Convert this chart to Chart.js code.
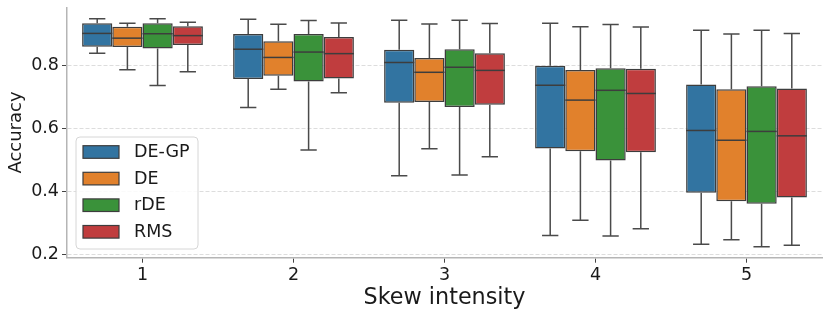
<!DOCTYPE html>
<html>
<head>
<meta charset="utf-8">
<script src="https://cdn.jsdelivr.net/npm/chart.js@4.4.1/dist/chart.umd.min.js"></script>
<style>
html,body{margin:0;padding:0;background:#fff;}
#wrap{width:830px;height:318px;position:relative;}
</style>
</head>
<body>
<div id="wrap"><canvas id="c" width="830" height="318"></canvas></div>
<script>
// ---- data ----
const categories = ['1', '2', '3', '4', '5'];
const seriesNames = ['DE-GP', 'DE', 'rDE', 'RMS'];
const seriesColors = ['#3274a1', '#e1812c', '#3a923a', '#c03d3e'];
const yTicks = [0.2, 0.4, 0.6, 0.8];
// per series (DE-GP, DE, rDE, RMS), per skew intensity 1..5
const whiskerLow = [
  [0.837, 0.666, 0.450, 0.261, 0.233],
  [0.785, 0.723, 0.535, 0.309, 0.247],
  [0.735, 0.531, 0.452, 0.259, 0.225],
  [0.779, 0.712, 0.510, 0.282, 0.230]
];
const q1 = [
  [0.858, 0.756, 0.681, 0.536, 0.396],
  [0.857, 0.766, 0.683, 0.527, 0.369],
  [0.852, 0.748, 0.667, 0.498, 0.361],
  [0.863, 0.757, 0.674, 0.524, 0.381]
];
const median = [
  [0.900, 0.850, 0.808, 0.736, 0.593],
  [0.885, 0.824, 0.777, 0.689, 0.562],
  [0.899, 0.841, 0.793, 0.720, 0.590],
  [0.893, 0.836, 0.783, 0.710, 0.576]
];
const q3 = [
  [0.932, 0.898, 0.848, 0.798, 0.738],
  [0.921, 0.875, 0.822, 0.784, 0.723],
  [0.932, 0.898, 0.850, 0.790, 0.733],
  [0.923, 0.889, 0.837, 0.788, 0.726]
];
const whiskerHigh = [
  [0.946, 0.945, 0.942, 0.932, 0.910],
  [0.932, 0.929, 0.930, 0.921, 0.898],
  [0.946, 0.941, 0.942, 0.928, 0.910],
  [0.935, 0.933, 0.931, 0.920, 0.900]
];

const FONT = "'DejaVu Sans', 'Liberation Sans', sans-serif";
const EDGE = '#3d3d3d';

const datasets = seriesNames.map((name, s) => ({
  label: name,
  data: categories.map((c, i) => [q1[s][i], q3[s][i]]),
  backgroundColor: seriesColors[s],
  borderColor: EDGE,
  borderWidth: 1.5,
  borderSkipped: false,
  categoryPercentage: 0.8,
  barPercentage: 1.0
}));

const boxPlugin = {
  id: 'boxExtras',
  beforeDatasetsDraw(chart) {
    const ctx = chart.ctx, y = chart.scales.y;
    ctx.save();
    ctx.strokeStyle = '#4a4a4a';
    ctx.lineWidth = 1.5;
    chart.data.datasets.forEach((ds, s) => {
      const meta = chart.getDatasetMeta(s);
      meta.data.forEach((bar, i) => {
        const x = bar.x, half = bar.width * 0.27;
        const yl = y.getPixelForValue(whiskerLow[s][i]);
        const yh = y.getPixelForValue(whiskerHigh[s][i]);
        const ya = y.getPixelForValue(q1[s][i]);
        const yb = y.getPixelForValue(q3[s][i]);
        ctx.beginPath();
        ctx.moveTo(x, ya); ctx.lineTo(x, yl);
        ctx.moveTo(x - half, yl); ctx.lineTo(x + half, yl);
        ctx.moveTo(x, yb); ctx.lineTo(x, yh);
        ctx.moveTo(x - half, yh); ctx.lineTo(x + half, yh);
        ctx.stroke();
      });
    });
    ctx.restore();
  },
  afterDatasetsDraw(chart) {
    const ctx = chart.ctx, y = chart.scales.y;
    ctx.save();
    ctx.strokeStyle = EDGE;
    ctx.lineWidth = 1.5;
    chart.data.datasets.forEach((ds, s) => {
      const meta = chart.getDatasetMeta(s);
      meta.data.forEach((bar, i) => {
        const ym = y.getPixelForValue(median[s][i]);
        ctx.beginPath();
        ctx.moveTo(bar.x - bar.width / 2, ym);
        ctx.lineTo(bar.x + bar.width / 2, ym);
        ctx.stroke();
      });
    });
    ctx.restore();
  },
  afterDraw(chart) {
    // legend inside the plot (lower left)
    const ctx = chart.ctx;
    const bx = 76, by = 137, bw = 122, bh = 112, r = 4;
    ctx.save();
    ctx.beginPath();
    ctx.moveTo(bx + r, by);
    ctx.arcTo(bx + bw, by, bx + bw, by + bh, r);
    ctx.arcTo(bx + bw, by + bh, bx, by + bh, r);
    ctx.arcTo(bx, by + bh, bx, by, r);
    ctx.arcTo(bx, by, bx + bw, by, r);
    ctx.closePath();
    ctx.fillStyle = 'rgba(255,255,255,0.85)';
    ctx.fill();
    ctx.strokeStyle = '#d6d6d6';
    ctx.lineWidth = 1;
    ctx.stroke();
    chart.data.datasets.forEach((ds, s) => {
      const cy = 152 + s * 26.6;
      ctx.fillStyle = ds.backgroundColor;
      ctx.fillRect(83, cy - 6.3, 36, 12.6);
      ctx.strokeStyle = EDGE;
      ctx.lineWidth = 1.2;
      ctx.strokeRect(83, cy - 6.3, 36, 12.6);
      ctx.fillStyle = '#1a1a1a';
      ctx.font = '17.5px ' + FONT;
      ctx.textBaseline = 'middle';
      ctx.textAlign = 'left';
      ctx.fillText(ds.label, 134, cy + 0.5);
    });
    ctx.restore();
  }
};

new Chart(document.getElementById('c'), {
  type: 'bar',
  data: { labels: categories, datasets },
  plugins: [boxPlugin],
  options: {
    responsive: false,
    animation: false,
    devicePixelRatio: 1,
    layout: { padding: { left: 0, right: 8, top: 7.3, bottom: 0 } },
    plugins: { legend: { display: false }, tooltip: { enabled: false } },
    scales: {
      x: {
        grid: { display: true, drawOnChartArea: false, drawTicks: true, tickLength: 5, tickColor: '#444', tickWidth: 1, offset: false },
        border: { display: true, color: '#b5b5b5', width: 1.5 },
        ticks: { color: '#1a1a1a', font: { family: FONT, size: 17.5 }, padding: 2, maxRotation: 0 },
        title: { display: true, text: 'Skew intensity', color: '#1a1a1a', font: { family: FONT, size: 22.3 }, padding: { top: 0, bottom: 6 } },
        afterFit(axis) { axis.height = 60.3; axis.paddingLeft = 0; axis.paddingRight = 0; }
      },
      y: {
        min: 0.1905,
        max: 0.9826,
        afterBuildTicks(axis) { axis.ticks = yTicks.map(v => ({ value: v })); },
        grid: { display: true, color: '#dddddd', lineWidth: 1, drawTicks: true, tickLength: 5, tickColor: '#444', tickWidth: 1, tickBorderDash: [] },
        border: { display: true, color: '#b5b5b5', width: 1.5, dash: [4, 2] },
        ticks: { color: '#1a1a1a', font: { family: FONT, size: 17.5 }, padding: 3, callback: v => Number(v).toFixed(1) },
        title: { display: true, text: 'Accuracy', color: '#1a1a1a', font: { family: FONT, size: 18 }, padding: { top: 6, bottom: 0 } },
        afterFit(axis) { axis.width = 67; axis.paddingTop = 0; axis.paddingBottom = 0; }
      }
    }
  }
});
</script>
</body>
</html>
